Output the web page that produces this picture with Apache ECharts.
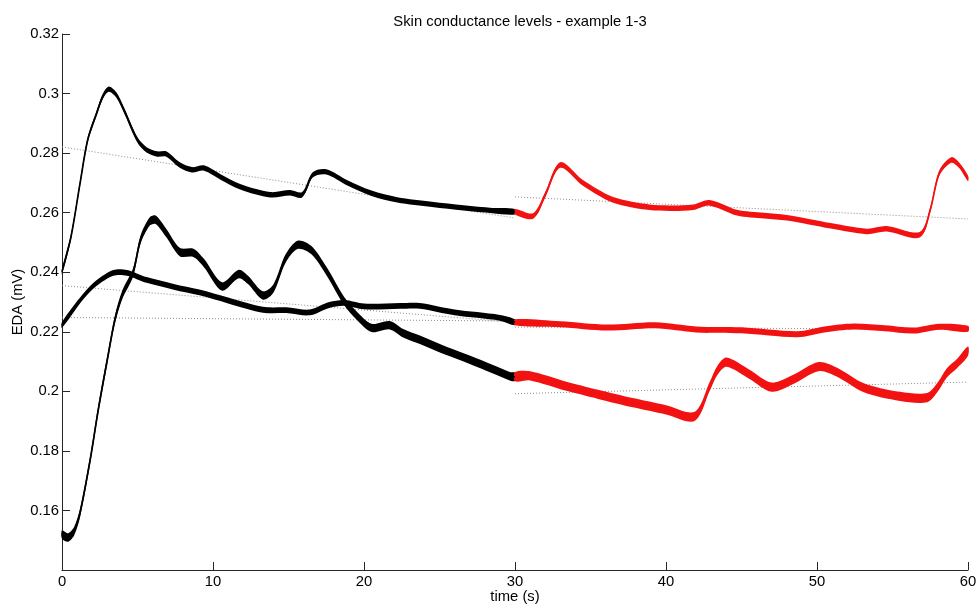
<!DOCTYPE html>
<html>
<head>
<meta charset="utf-8">
<script src="https://cdn.jsdelivr.net/npm/echarts@6/dist/echarts.min.js"></script>
<style>
  html, body { margin: 0; padding: 0; background: #fff; }
  #chart { width: 977px; height: 604px; }
</style>
</head>
<body>
<div id="chart"></div>
<script>
// ---- Example 1 (top trace) ----
const ex1FirstT  = [0, 0.6, 1.2, 1.7, 2.3, 2.7, 3.1, 3.6, 4.1, 5.0, 5.6, 6.3, 6.9, 7.8, 8.6, 9.4, 10.5, 11.8, 13.8, 15.1, 15.9, 16.6, 17.5, 18.9, 20.5, 22.2, 24.5, 26.6, 28.5, 30];
const ex1FirstV  = [0.2402, 0.252, 0.270, 0.2844, 0.2935, 0.299, 0.3015, 0.2995, 0.2945, 0.2844, 0.2811, 0.2797, 0.2797, 0.276, 0.2744, 0.275, 0.272, 0.2687, 0.266, 0.2667, 0.266, 0.2727, 0.2737, 0.270, 0.2665, 0.2643, 0.2628, 0.2616, 0.2607, 0.2603];
const ex1SecondT = [30, 31.2, 32.0, 33, 34.5, 36.5, 38.9, 40.5, 41.8, 42.9, 44.7, 46.5, 48, 50.9, 53.3, 54.6, 56.8, 57.5, 58.1, 58.9, 59.4, 60];
const ex1SecondV = [0.2603, 0.2589, 0.266, 0.276, 0.270, 0.2643, 0.2618, 0.2615, 0.2618, 0.2633, 0.260, 0.259, 0.2583, 0.2556, 0.2537, 0.2546, 0.2526, 0.261, 0.2733, 0.2777, 0.276, 0.2715];

// ---- Example 2 (trace starting near 0.15) ----
const ex2FirstT  = [0, 0.4, 0.8, 1.2, 1.9, 2.4, 3.0, 3.5, 4.0, 4.7, 5.2, 5.8, 6.2, 6.9, 7.8, 8.7, 9.4, 10.6, 11.7, 12.3, 13.3, 14.0, 14.8, 15.6, 16.5, 17.5, 18.7, 19.5, 20.5, 21.7, 22.6, 23.7, 25.5, 27, 28.5, 29.7, 30];
const ex2FirstV  = [0.1519, 0.1509, 0.153, 0.1593, 0.178, 0.1938, 0.2106, 0.224, 0.2325, 0.2398, 0.2509, 0.257, 0.2576, 0.2532, 0.2468, 0.2465, 0.2431, 0.2352, 0.2394, 0.2375, 0.2322, 0.2345, 0.2445, 0.2492, 0.2475, 0.2405, 0.2302, 0.2255, 0.2213, 0.2222, 0.2195, 0.2173, 0.2135, 0.2106, 0.2075, 0.205, 0.2049];
const ex2SecondT = [30, 31, 33.4, 35.5, 37.8, 40, 41.9, 42.9, 43.4, 44, 45.5, 47, 48.4, 50.1, 51.3, 53.1, 55.5, 57.3, 58, 58.6, 59.3, 60];
const ex2SecondV = [0.2049, 0.2052, 0.2017, 0.199, 0.1962, 0.1938, 0.1916, 0.2017, 0.207, 0.2098, 0.2058, 0.2014, 0.2039, 0.2083, 0.2065, 0.2012, 0.1983, 0.1979, 0.2015, 0.2062, 0.2095, 0.2135];

// ---- Example 3 (trace starting near 0.22) ----
const ex3FirstT  = [0, 1.4, 2.3, 3.4, 4.3, 5.6, 7.4, 9.1, 11, 13.3, 15, 16.4, 17.7, 18.7, 20, 22.4, 23.7, 26, 29, 30];
const ex3FirstV  = [0.2223, 0.2318, 0.2364, 0.2398, 0.2398, 0.2374, 0.2351, 0.2332, 0.2305, 0.2274, 0.2272, 0.2265, 0.229, 0.2297, 0.2285, 0.2287, 0.2287, 0.2265, 0.2247, 0.2232];
const ex3SecondT = [30, 33, 36.1, 39.3, 42, 45, 48.7, 50.5, 52.4, 54.5, 56.4, 58.1, 60];
const ex3SecondV = [0.2232, 0.2225, 0.2214, 0.2222, 0.2208, 0.2205, 0.2192, 0.2208, 0.2218, 0.2212, 0.2204, 0.2217, 0.221];

// ---- Linear trend lines for each half ----
const trendFirstT  = [0, 30];
const trendSecondT = [30, 60];
const trend1FirstV  = [0.2821, 0.2582];
const trend1SecondV = [0.2653, 0.2579];
const trend2FirstV  = [0.2248, 0.2236];
const trend2SecondV = [0.1992, 0.2031];
const trend3FirstV  = [0.2355, 0.2232];
const trend3SecondV = [0.2216, 0.2208];

const xTicks = [0, 10, 20, 30, 40, 50, 60];
const yTicks = [0.16, 0.18, 0.2, 0.22, 0.24, 0.26, 0.28, 0.3, 0.32];

const FONT = '"Liberation Sans", Arial, sans-serif';
const FS = 14.8;
const BLACK = '#000000';
const RED = '#f21212';
const AXIS = '#262626';

function pairs(t, v) { return t.map((x, i) => [x, v[i]]); }

// Thin core line of a trace
function traceLine(t, v, color) {
  return {
    type: 'line', data: pairs(t, v), smooth: 0.3, showSymbol: false, silent: true,
    lineStyle: { color: color, width: 1.7 }, z: 4
  };
}

// Vertical noise envelope around a trace: a band of fixed pixel height
function traceBand(t, v, color, half) {
  const pts = pairs(t, v);
  return {
    type: 'custom', coordinateSystem: 'cartesian2d', silent: true, z: 3,
    data: [pts[0]],
    renderItem: function (params, api) {
      const up = [], lo = [];
      pts.forEach(function (p) {
        const c = api.coord(p);
        up.push([c[0], c[1] - half]);
        lo.push([c[0], c[1] + half]);
      });
      return {
        type: 'polygon',
        shape: { points: up.concat(lo.reverse()), smooth: 0.3 },
        style: { fill: color, stroke: null }
      };
    }
  };
}

function trendLine(t, v) {
  return {
    type: 'line', data: pairs(t, v), showSymbol: false, silent: true,
    lineStyle: { color: '#8c8c8c', width: 1, type: [1, 2] }, z: 2
  };
}

const chart = echarts.init(document.getElementById('chart'), null, { renderer: 'canvas' });

chart.setOption({
  backgroundColor: '#ffffff',
  animation: false,
  title: {
    text: 'Skin conductance levels - example 1-3',
    left: 515, top: 9, textAlign: 'center',
    textStyle: { fontFamily: FONT, fontSize: FS, fontWeight: 'normal', color: '#000' }
  },
  grid: { left: 62, right: 9, top: 34, bottom: 34, containLabel: false, outerBoundsMode: 'none' },
  xAxis: {
    type: 'value', min: xTicks[0], max: xTicks[xTicks.length - 1], interval: 10,
    name: 'time (s)', nameLocation: 'middle', nameGap: 19, nameMoveOverlap: false,
    nameTextStyle: { fontFamily: FONT, fontSize: FS, color: '#000' },
    axisLine: { lineStyle: { color: AXIS, width: 1 } },
    axisTick: { inside: true, length: 8, lineStyle: { color: AXIS } },
    axisLabel: { fontFamily: FONT, fontSize: FS, color: '#000', margin: 4 },
    splitLine: { show: false }
  },
  yAxis: {
    type: 'value', min: 0.14, max: yTicks[yTicks.length - 1], interval: 0.02,
    name: 'EDA (mV)', nameLocation: 'middle', nameGap: 37, nameMoveOverlap: false,
    nameTextStyle: { fontFamily: FONT, fontSize: FS, color: '#000' },
    axisLine: { show: true, lineStyle: { color: AXIS, width: 1 } },
    axisTick: { show: true, inside: true, length: 8, lineStyle: { color: AXIS } },
    axisLabel: {
      fontFamily: FONT, fontSize: FS, color: '#000', margin: 3, showMinLabel: false,
      formatter: function (v) { return String(+v.toFixed(2)); }
    },
    splitLine: { show: false }
  },
  series: [
    trendLine(trendFirstT, trend1FirstV),
    trendLine(trendSecondT, trend1SecondV),
    trendLine(trendFirstT, trend2FirstV),
    trendLine(trendSecondT, trend2SecondV),
    trendLine(trendFirstT, trend3FirstV),
    trendLine(trendSecondT, trend3SecondV),

    traceBand(ex1FirstT, ex1FirstV, BLACK, 2.7),
    traceLine(ex1FirstT, ex1FirstV, BLACK),
    traceBand(ex2FirstT, ex2FirstV, BLACK, 4.2),
    traceLine(ex2FirstT, ex2FirstV, BLACK),
    traceBand(ex3FirstT, ex3FirstV, BLACK, 2.9),
    traceLine(ex3FirstT, ex3FirstV, BLACK),

    traceBand(ex1SecondT, ex1SecondV, RED, 2.8),
    traceLine(ex1SecondT, ex1SecondV, RED),
    traceBand(ex2SecondT, ex2SecondV, RED, 4.6),
    traceLine(ex2SecondT, ex2SecondV, RED),
    traceBand(ex3SecondT, ex3SecondV, RED, 3.0),
    traceLine(ex3SecondT, ex3SecondV, RED)
  ]
});
</script>
</body>
</html>
